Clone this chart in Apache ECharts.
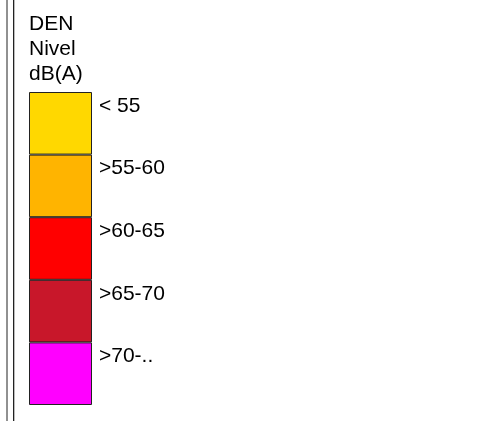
<!DOCTYPE html>
<html>
<head>
<meta charset="utf-8">
<script src="https://cdn.jsdelivr.net/npm/echarts@6/dist/echarts.min.js"></script>
<style>
  html, body { margin: 0; padding: 0; background: #fff; }
  #legend { width: 503px; height: 421px; }
</style>
</head>
<body>
<div id="legend"></div>
<script>
var titleLines = ['DEN', 'Nivel', 'dB(A)'];
var classes = ['< 55', '>55-60', '>60-65', '>65-70', '>70-..'];
var bandSize = [1, 1, 1, 1, 1];
var colors = ['#FFD800', '#FFB400', '#FF0000', '#C8172A', '#FF00FF'];

var myChart = echarts.init(document.getElementById('legend'));

var series = classes.map(function (name, i) {
    return {
        name: name,
        type: 'bar',
        stack: 'den',
        barWidth: '100%',
        silent: true,
        data: [bandSize[i]],
        itemStyle: {
            color: colors[i],
            borderColor: '#222',
            borderWidth: 1
        },
        label: {
            show: true,
            position: [70, 14],
            align: 'left',
            verticalAlign: 'middle',
            formatter: name,
            color: '#000',
            fontFamily: 'Liberation Sans, Arial, sans-serif',
            fontSize: 21
        }
    };
});

var option = {
    animation: false,
    backgroundColor: '#fff',
    title: {
        text: titleLines.join('\n'),
        left: 29,
        top: 12,
        padding: 0,
        textStyle: {
            color: '#000',
            fontFamily: 'Liberation Sans, Arial, sans-serif',
            fontSize: 21,
            fontWeight: 'normal',
            lineHeight: 25
        }
    },
    grid: {
        left: 29,
        top: 92,
        width: 63,
        height: 313
    },
    xAxis: {
        type: 'category',
        data: ['DEN'],
        show: false
    },
    yAxis: {
        type: 'value',
        min: 0,
        max: 5,
        inverse: true,
        show: false
    },
    graphic: [
        { type: 'line', shape: { x1: 7, y1: 0, x2: 7, y2: 421 }, style: { stroke: '#222', lineWidth: 1 } },
        { type: 'line', shape: { x1: 13.5, y1: 0, x2: 13.5, y2: 421 }, style: { stroke: '#222', lineWidth: 1 } },
        { type: 'line', shape: { x1: 14.5, y1: 0, x2: 14.5, y2: 421 }, style: { stroke: '#bbb', lineWidth: 1 } }
    ],
    series: series
};

myChart.setOption(option);
</script>
</body>
</html>
